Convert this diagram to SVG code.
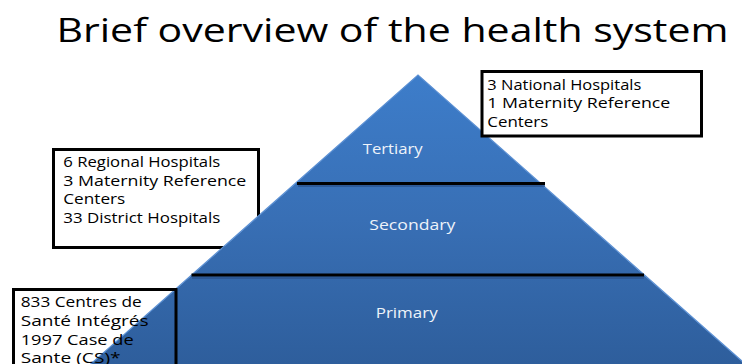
<svg xmlns="http://www.w3.org/2000/svg" width="742" height="364" viewBox="0 0 742 364">
  <style>
    .title { font-family: "Open Sans", "Liberation Sans", sans-serif; font-size: 33px; fill: #000; }
    .tier { font-family: "Open Sans", "Liberation Sans", sans-serif; font-size: 14.5px; fill: #eef3fa; }
    .box { fill: #fff; stroke: #000; stroke-width: 3; }
    .box-open { fill: none; stroke: #000; stroke-width: 3; }
    .btxt { font-family: "Open Sans", "Liberation Sans", sans-serif; font-size: 14.5px; fill: #000; }
    .sep { stroke: #000; stroke-width: 3; }
    .sepShadow { stroke: #2b5590; stroke-width: 2; opacity: 0.8; }
    .edge { fill: none; stroke: #5a8fd3; stroke-width: 1.2; }
  </style>
  <defs>
    <linearGradient id="pyr" gradientUnits="userSpaceOnUse" x1="0" y1="75" x2="0" y2="364">
      <stop offset="0" stop-color="#3d7dca"/>
      <stop offset="0.5" stop-color="#386fb5"/>
      <stop offset="1" stop-color="#2e5e9c"/>
    </linearGradient>
  </defs>
  <rect width="742" height="364" fill="#fff"/>

  <text class="title" x="56.5" y="42" textLength="672" lengthAdjust="spacingAndGlyphs">Brief overview of the health system</text>

  <g id="box-secondary-info">
    <rect class="box" x="53.5" y="149.5" width="205" height="98"/>
  </g>

  <g id="tier-tertiary">
    <polygon points="418,75 296,183 540,183" fill="url(#pyr)"/>
    <text class="tier" x="362.7" y="154" textLength="60" lengthAdjust="spacingAndGlyphs">Tertiary</text>
  </g>
  <g id="tier-secondary">
    <polygon points="296,183 540,183 644,275 192,275" fill="url(#pyr)"/>
    <text class="tier" x="369.3" y="230" textLength="86" lengthAdjust="spacingAndGlyphs">Secondary</text>
  </g>
  <g id="tier-primary">
    <polygon points="192,275 644,275 752,370 84,370" fill="url(#pyr)"/>
    <text class="tier" x="375.7" y="318" textLength="62" lengthAdjust="spacingAndGlyphs">Primary</text>
  </g>
  <polyline class="edge" points="84,370 418,75 752,370"/>

  <g id="connectors">
    <line class="sepShadow" x1="298" y1="186" x2="545" y2="186"/>
    <line class="sep" x1="297" y1="183.5" x2="545" y2="183.5"/>
    <line class="sepShadow" x1="192" y1="278" x2="644" y2="278"/>
    <line class="sep" x1="191.5" y1="275" x2="644" y2="275"/>
  </g>

  <g id="box-tertiary-info">
    <rect class="box" x="482" y="71.5" width="219.5" height="64.5"/>
    <text class="btxt" x="487.3" y="90" textLength="154" lengthAdjust="spacingAndGlyphs">3 National Hospitals</text>
    <text class="btxt" x="487.3" y="108.3" textLength="183" lengthAdjust="spacingAndGlyphs">1 Maternity Reference</text>
    <text class="btxt" x="487.3" y="126.7" textLength="61" lengthAdjust="spacingAndGlyphs">Centers</text>
  </g>

  <g id="box-secondary-text">
    <text class="btxt" x="63.3" y="167.3" textLength="157" lengthAdjust="spacingAndGlyphs">6 Regional Hospitals</text>
    <text class="btxt" x="63.3" y="185.7" textLength="183" lengthAdjust="spacingAndGlyphs">3 Maternity Reference</text>
    <text class="btxt" x="63.3" y="204" textLength="62" lengthAdjust="spacingAndGlyphs">Centers</text>
    <text class="btxt" x="63.3" y="222.7" textLength="157" lengthAdjust="spacingAndGlyphs">33 District Hospitals</text>
  </g>

  <g id="box-primary-info">
    <rect class="box-open" x="13.5" y="289.5" width="162.5" height="90"/>
    <text class="btxt" x="20.7" y="306.7" textLength="121" lengthAdjust="spacingAndGlyphs">833 Centres de</text>
    <text class="btxt" x="20.7" y="325.7" textLength="128" lengthAdjust="spacingAndGlyphs">Santé Intégrés</text>
    <text class="btxt" x="20.7" y="345" textLength="113" lengthAdjust="spacingAndGlyphs">1997 Case de</text>
    <text class="btxt" x="20.7" y="363" textLength="100" lengthAdjust="spacingAndGlyphs">Sante (CS)*</text>
  </g>
</svg>
